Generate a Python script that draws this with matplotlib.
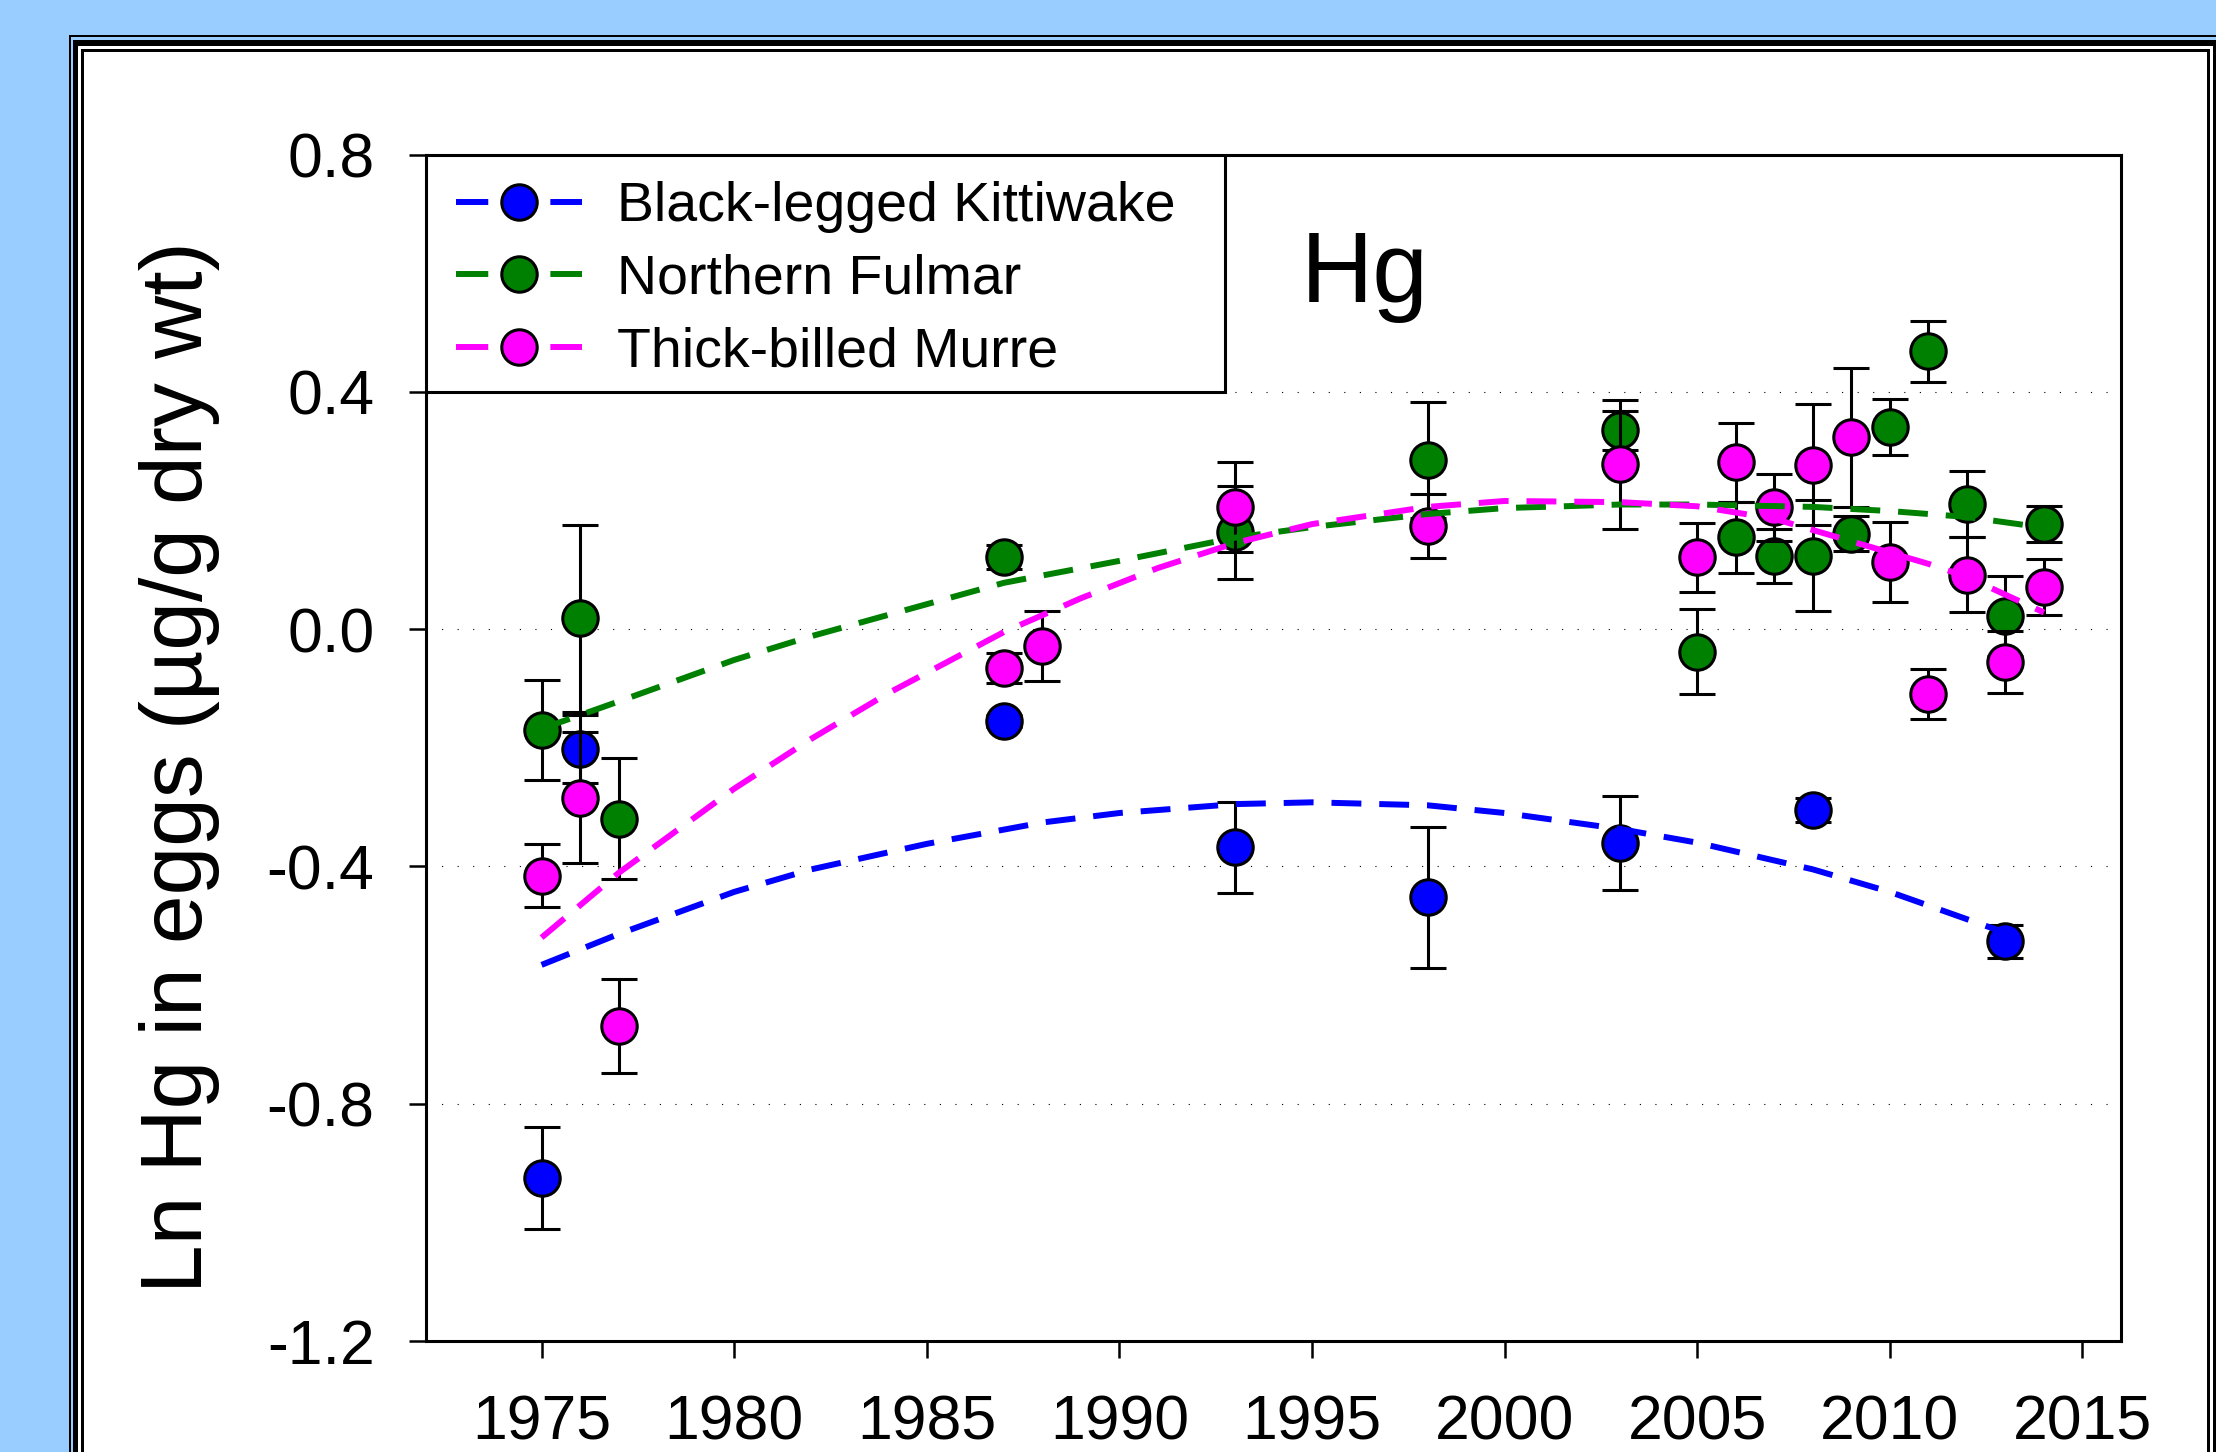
import matplotlib.pyplot as plt
from matplotlib.patches import Rectangle
from matplotlib.lines import Line2D

plt.rcParams['font.family'] = ['Liberation Sans', 'DejaVu Sans']

species = ["Black-legged Kittiwake", "Northern Fulmar", "Thick-billed Murre"]
colors = ["#0000FF", "#008000", "#FF00FF"]

# yearly means (Ln Hg) and error bars
bk_years = [1975, 1976, 1987, 1993, 1998, 2003, 2008, 2013]
bk_vals = [-0.925, -0.202, -0.155, -0.368, -0.452, -0.361, -0.305, -0.526]
bk_err = [0.086, 0.057, 0.01, 0.077, 0.119, 0.079, 0.02, 0.028]

nf_years = [1975, 1976, 1977, 1987, 1993, 1998, 2003, 2005, 2006, 2007, 2008, 2009, 2010, 2011, 2012, 2013, 2014]
nf_vals = [-0.170, 0.018, -0.320, 0.122, 0.163, 0.285, 0.335, -0.038, 0.155, 0.123, 0.124, 0.161, 0.341, 0.468, 0.211, 0.022, 0.177]
nf_err = [0.084, 0.158, 0.102, 0.02, 0.079, 0.098, 0.033, 0.072, 0.06, 0.045, 0.093, 0.03, 0.047, 0.052, 0.056, 0.067, 0.03]

tb_years = [1975, 1976, 1977, 1987, 1988, 1993, 1998, 2003, 2005, 2006, 2007, 2008, 2009, 2010, 2011, 2012, 2013, 2014]
tb_vals = [-0.416, -0.284, -0.669, -0.066, -0.029, 0.206, 0.174, 0.278, 0.121, 0.281, 0.205, 0.277, 0.323, 0.113, -0.109, 0.092, -0.055, 0.071]
tb_err = [0.053, 0.111, 0.08, 0.025, 0.059, 0.076, 0.054, 0.109, 0.058, 0.066, 0.056, 0.102, 0.117, 0.067, 0.042, 0.064, 0.052, 0.048]

# fitted trend lines, read at a few years along each curve
bk_fit_x = [1975, 1977, 1980, 1982, 1985, 1988, 1990, 1993, 1995, 1998, 2000, 2003, 2005, 2008, 2010, 2013]
bk_fit_y = [-0.566, -0.514, -0.443, -0.405, -0.362, -0.326, -0.310, -0.295, -0.292, -0.297, -0.310, -0.337, -0.360, -0.405, -0.443, -0.512]

nf_fit_x = [1975, 1977, 1980, 1982, 1985, 1987, 1990, 1993, 1995, 1998, 2000, 2003, 2005, 2008, 2010, 2012, 2014]
nf_fit_y = [-0.168, -0.122, -0.052, -0.012, 0.042, 0.078, 0.115, 0.154, 0.172, 0.194, 0.204, 0.210, 0.210, 0.206, 0.199, 0.189, 0.171]

tb_fit_x = [1975, 1977, 1980, 1982, 1984, 1987, 1989, 1991, 1993, 1995, 1998, 2000, 2003, 2005, 2007, 2009, 2011, 2012, 2013, 2014]
tb_fit_y = [-0.520, -0.411, -0.269, -0.185, -0.108, -0.005, 0.052, 0.103, 0.145, 0.177, 0.206, 0.216, 0.214, 0.207, 0.186, 0.148, 0.110, 0.088, 0.058, 0.028]

xticks = [1975, 1980, 1985, 1990, 1995, 2000, 2005, 2010, 2015]
yticks = [-1.2, -0.8, -0.4, 0.0, 0.4, 0.8]
ytick_labels = ["-1.2", "-0.8", "-0.4", "0.0", "0.4", "0.8"]

fig = plt.figure(figsize=(22.16, 14.52), dpi=100)
fig.patch.set_facecolor('#99CCFF')

# double frame around the panel
bg = fig.add_axes([0, 0, 1, 1])
bg.set_xlim(0, 2216)
bg.set_ylim(1452, 0)
bg.axis('off')
for x0, y0, c in [(69, 35, 'black'), (71, 37, '#99CCFF'), (73, 40, 'black'),
                  (78, 46, 'white'), (81, 49, 'black'), (84, 52, 'white')]:
    bg.add_patch(Rectangle((x0, y0), 2291 - 2 * x0, 1600, color=c, lw=0))

ax = fig.add_axes([426 / 2216, 1 - 1341 / 1452, 1695 / 2216, 1186.5 / 1452])
ax.set_xlim(1972, 2016)
ax.set_ylim(-1.2, 0.8)

for v in yticks[1:-1]:
    ax.axhline(v, color='black', lw=0.8, ls=(0, (1, 13)), zorder=1)

groups = [(bk_years, bk_vals, bk_err), (nf_years, nf_vals, nf_err), (tb_years, tb_vals, tb_err)]
for i, (x, y, e) in enumerate(groups):
    ax.errorbar(x, y, yerr=e, fmt='o', ms=25.5, mfc=colors[i], mec='black', mew=2.2,
                ecolor='black', elinewidth=2.2, capsize=13, capthick=2.2, zorder=4 + i)

fits = [(bk_fit_x, bk_fit_y), (nf_fit_x, nf_fit_y), (tb_fit_x, tb_fit_y)]
for i, (x, y) in enumerate(fits):
    ax.plot(x, y, color=colors[i], lw=4.3, ls=(0, (5, 3)), zorder=8 + i)

# legend box
ax.add_patch(Rectangle((0, 0.8), 0.4714, 0.2, transform=ax.transAxes,
                       fc='white', ec='black', lw=2.2, zorder=3))
handles = [Line2D([0], [0], color=c, lw=4.3, ls=(0, (5.4, 10.4)), marker='o', ms=25.5,
                  mfc=c, mec='black', mew=2.2) for c in colors]
ax.legend(handles, species, loc='upper left', bbox_to_anchor=(0.0177, 0.9774), frameon=False,
          fontsize=40, handlelength=2.27, handletextpad=0.63, labelspacing=0.37,
          borderpad=0, borderaxespad=0)

ax.text(0.554, 0.8757, 'Hg', transform=ax.transAxes, fontsize=72, ha='center', va='baseline')

ax.set_xticks(xticks)
ax.set_xticklabels([str(t) for t in xticks])
ax.set_yticks(yticks)
ax.set_yticklabels(ytick_labels)
ax.tick_params(direction='out', length=12, width=1.8, labelsize=45, pad=25)
ax.tick_params(axis='x', pad=26)
for s in ax.spines.values():
    s.set_linewidth(2.2)

ax.set_ylabel('Ln Hg in eggs (µg/g dry wt)', fontsize=63)
ax.yaxis.set_label_coords(-0.1215, 0.4838)

fig.savefig('out.png', dpi=100)
